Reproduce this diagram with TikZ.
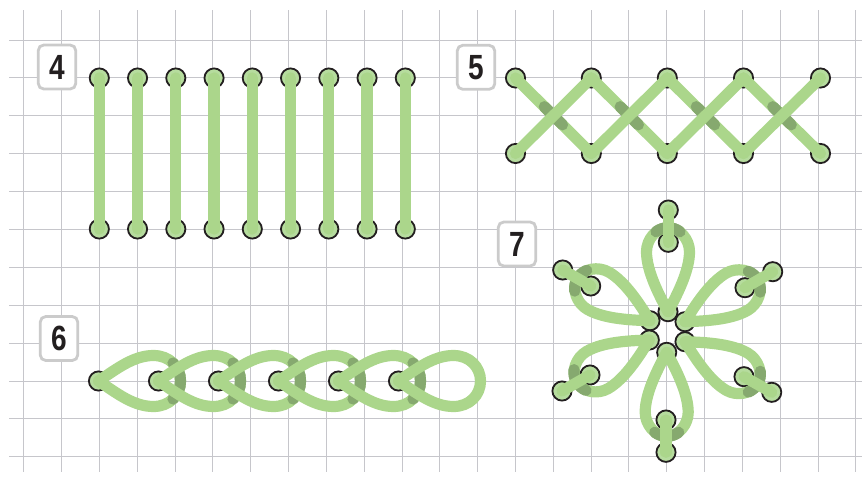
\documentclass[tikz,border=0pt]{standalone}
\usepackage{fontspec}
\setmainfont[FakeStretch=0.8]{Liberation Sans}
\usetikzlibrary{calc}
\definecolor{gridc}{HTML}{C6C6CB}
\definecolor{thr}{HTML}{ABD68B}
\definecolor{thrd}{HTML}{86A96F}
\definecolor{dotf}{HTML}{B6DC9E}
\definecolor{ink}{HTML}{231F20}
\definecolor{boxl}{HTML}{CBCBCB}
\tikzset{
  gridline/.style={draw=gridc,line width=1.3pt},
  holedot/.style={circle,draw=ink,line width=1.8pt,fill=dotf,minimum size=19.2pt,inner sep=0pt},
  thread/.style={draw=thr,line width=11.2pt,line cap=round,line join=round},
  under/.style={draw=thrd,line width=11.2pt,line cap=round},
  numbox/.style={rectangle,rounded corners=5.5pt,draw=boxl,line width=2.8pt,fill=white,
    minimum width=37.5pt,minimum height=44pt,inner sep=0pt,text=ink,
    font=\fontsize{35}{35}\selectfont\bfseries}
}
\begin{document}
\begin{tikzpicture}[x=1pt,y=-1pt]
\useasboundingbox (0,0) rectangle (862,483);
% grid
\foreach \k in {0,...,11}{\draw[gridline] (9,{floor(40+37.9*\k)+0.5}) -- (862,{floor(40+37.9*\k)+0.5});}
\foreach \k in {0,...,22}{\draw[gridline] ({floor(23.7+37.83*\k)+0.5},10) -- ({floor(23.7+37.83*\k)+0.5},472);}
% labels
\node[numbox] (n4) at (57,67) {4};
\node[numbox] (n5) at (476,67.3) {5};
\node[numbox] (n6) at (59,338.5) {6};
\node[numbox] (n7) at (517,244) {7};
% group 4
\foreach \k in {0,...,8}{
  \node[holedot] (p\k) at ({99.3+38.25*\k},78) {};
  \node[holedot] (q\k) at ({99.3+38.25*\k},229) {};
  \draw[thread] (p\k.center) -- (q\k.center);
}
% group 5
\foreach \k/\x in {1/515.5,2/591.3,3/667.3,4/743.5,5/820.5}{
  \node[holedot] (a\k) at (\x,78) {};
  \node[holedot] (b\k) at (\x,153.5) {};
}
\foreach \u/\v in {a1/b2,a2/b3,a3/b4,a4/b5}{
  \draw[thread] (\u.center) -- (\v.center);
  \draw[under] ($(\u.center)!.38!(\v.center)$) -- ($(\u.center)!.62!(\v.center)$);
}
\foreach \u/\v in {b1/a2,b2/a3,b3/a4,b4/a5}{
  \draw[thread] (\u.center) -- (\v.center);
}
% group 6
\foreach \k/\x in {1/98.5,2/158.5,3/218.5,4/278.5,5/338.5,6/398.5}{
  \node[holedot] (t\k) at (\x,381) {};
}
\foreach \k in {1,...,6}{
  \begin{scope}[shift={(t\k.center)}]
    \draw[thread] (0,0) .. controls (18,-12) and (35,-25.5) .. (55,-25.5)
      .. controls (71,-25.5) and (82,-14) .. (82,0)
      .. controls (82,14) and (71,25.5) .. (55,25.5)
      .. controls (35,25.5) and (18,12) .. (0,0) -- cycle;
    \ifnum\k<6
      \draw[under] (74.5,-18) .. controls (79.25,-13.4) and (82,-7) .. (82,0)
        .. controls (82,7) and (79.25,13.4) .. (74.5,18);
    \fi
  \end{scope}
}
% group 7
\foreach \k/\tx/\ty/\ix/\iy/\ox/\oy in {
  1/668/311.7/668.3/242.3/668.3/210,
  2/685/321.7/745/287.7/772.7/271.7,
  3/650/320.7/590.7/286/562.7/270,
  4/649.3/340/590/375/562/391,
  5/685/341.7/744/376.7/771.7/392.3,
  6/666.7/352.3/666/420/666/452.3}{
  \node[holedot] (c\k) at (\tx,\ty) {};
  \node[holedot] (i\k) at (\ix,\iy) {};
  \node[holedot] (o\k) at (\ox,\oy) {};
}
\foreach \k/\ang in {1/90,2/30,3/150,4/210,5/330,6/270}{
  \begin{scope}[shift={(c\k.center)},rotate=\ang]
    \draw[thread] (0,0) .. controls (15,8) and (40,21.5) .. (60,21.5)
      .. controls (72,21.5) and (84,12) .. (84,0)
      .. controls (84,-12) and (72,-21.5) .. (60,-21.5)
      .. controls (40,-21.5) and (15,-8) .. (0,0) -- cycle;
    \draw[under] (80,12) .. controls (82.5,8.5) and (84,4.5) .. (84,0)
      .. controls (84,-4.5) and (82.5,-8.5) .. (80,-12);
  \end{scope}
  \draw[thread] (i\k.center) -- (o\k.center);
}
\end{tikzpicture}
\end{document}
